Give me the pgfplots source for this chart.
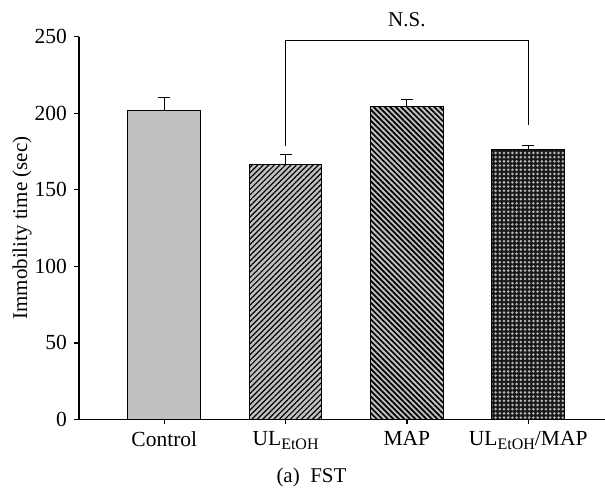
\documentclass[border=0pt]{standalone}
\usepackage{fontspec}
\setmainfont{Liberation Serif}
\usepackage{pgfplots}
\pgfplotsset{compat=1.18}
\usetikzlibrary{patterns,patterns.meta}

\definecolor{barfill}{RGB}{192,192,192}
\newcommand{\sub}[1]{\raisebox{-3.5pt}{\fontsize{16}{16}\selectfont #1}}

\begin{document}
\fontsize{21}{25}\selectfont
\begin{tikzpicture}
\useasboundingbox (0,0) rectangle (605pt,489pt);
\begin{axis}[
    at={(79pt,69.5pt)}, anchor=south west,
    scale only axis, width=526pt, height=382.8pt,
    xmin=-0.703, xmax=3.633, ymin=0, ymax=250,
    clip=false,
    axis x line=bottom, axis y line=left,
    axis line style={-, line width=1.3pt},
    xtick={0,1,2,3},
    xticklabels={Control, UL\sub{EtOH}, MAP, UL\sub{EtOH}/MAP},
    ytick={0,50,...,250},
    tick align=outside, major tick length=5pt,
    tick style={line width=1.2pt, black},
    ticklabel style={font=\fontsize{21.5}{25}\selectfont},
    /pgf/number format/assume math mode=true,
    ylabel={Immobility time (sec)},
    ylabel style={at={(axis description cs:-0.108,0.5)}, anchor=center, font=\fontsize{21}{25}\selectfont},
    errbar/.style={error bars/.cd, y dir=plus, y explicit,
      error bar style={line width=1pt},
      error mark options={rotate=90, line width=1pt, mark size=6pt}},
  ]
  % Control
  \addplot[ybar, bar width=0.6, bar shift=0pt, fill=barfill, draw=black, line width=1pt, errbar]
    coordinates {(0,202) +- (0,8)};
  % UL_EtOH
  \addplot[ybar, bar width=0.6, bar shift=0pt, fill=barfill, draw=black, line width=1pt,
    postaction={pattern={Lines[angle=45,distance=3.9pt,line width=1.2pt]}, pattern color=black}, errbar]
    coordinates {(1,166.7) +- (0,6.5)};
  % MAP
  \addplot[ybar, bar width=0.6, bar shift=0pt, fill=barfill, draw=black, line width=1pt,
    postaction={pattern={Lines[angle=-45,distance=3.9pt,line width=1.7pt]}, pattern color=black}, errbar]
    coordinates {(2,204.3) +- (0,4.4)};
  % UL_EtOH/MAP
  \addplot[ybar, bar width=0.6, bar shift=0pt, fill=black!90, draw=black, line width=1pt,
    postaction={pattern={Dots[distance=4.2pt,radius=1.4pt]}, pattern color=black!28}, errbar]
    coordinates {(3,176.2) +- (0,2.6)};
  % significance bracket
  \addplot[black, line width=1pt, mark=none]
    coordinates {(1,178.8) (1,247.4) (3,247.4) (3,192.4)};
  \node[anchor=base] at (axis cs:2,256.6) {N.S.};
\end{axis}
\node[anchor=base] at (311.5pt,6pt) {(a)\enspace FST};
\end{tikzpicture}
\end{document}
